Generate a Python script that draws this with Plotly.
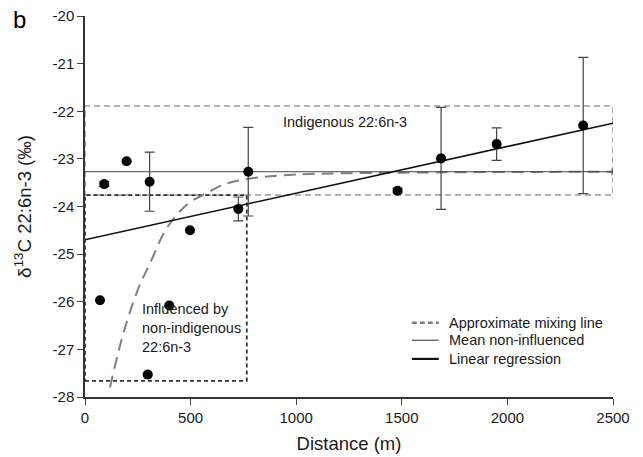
import plotly.graph_objects as go

# ---- data ----
distance = [71, 91, 197, 297, 306, 399, 497, 726, 773, 1480, 1686, 1949, 2359]
d13c = [-25.97, -23.53, -23.05, -27.53, -23.48, -26.08, -24.50, -24.05, -23.27, -23.67, -22.99, -22.69, -22.30]
err = [0, 0.05, 0, 0, 0.62, 0, 0, 0.25, 0.93, 0.05, 1.07, 0.34, 1.43]

mix_x = [118, 150, 189, 250, 308, 382, 450, 500, 576, 650, 773, 1000, 1500, 2500]
mix_y = [-27.8, -27.2, -26.55, -25.75, -25.19, -24.49, -24.1, -23.9, -23.72, -23.55, -23.42, -23.33, -23.29, -23.27]

mean_x = [0, 2500]
mean_y = [-23.27, -23.27]

reg_x = [0, 2500]
reg_y = [-24.70, -22.25]

indig_box_x = [0, 2500]
indig_box_y = [-23.76, -21.89]
infl_box_x = [0, 766]
infl_box_y = [-27.66, -23.76]

xticks = [0, 500, 1000, 1500, 2000, 2500]
yticks = [-28, -27, -26, -25, -24, -23, -22, -21, -20]
ytick_labels = ["-28", "-27", "-26", "-25", "-24", "-23", "-22", "-21", "-20"]

legend_names = ["Approximate mixing line", "Mean non-influenced", "Linear regression"]

FONT = "Liberation Sans, Arial, sans-serif"
TXT = "#1a1a1a"

fig = go.Figure()

def box(xs, ys, color, dash, width):
    fig.add_trace(go.Scatter(
        x=[xs[0], xs[1], xs[1], xs[0], xs[0]],
        y=[ys[0], ys[0], ys[1], ys[1], ys[0]],
        mode="lines", line=dict(color=color, dash=dash, width=width),
        showlegend=False, hoverinfo="skip"))

box(indig_box_x, indig_box_y, "#9a9a9a", "6px,4px", 1.6)
box(infl_box_x, infl_box_y, "#333333", "4px,3px", 1.8)

styles = [
    dict(color="#808080", width=2, dash="12px,7px"),
    dict(color="#444444", width=1),
    dict(color="#111111", width=1.6),
]

fig.add_trace(go.Scatter(x=mix_x, y=mix_y, mode="lines", line_shape="spline",
                         line=styles[0], name=legend_names[0], showlegend=False))
fig.add_trace(go.Scatter(x=mean_x, y=mean_y, mode="lines",
                         line=styles[1], name=legend_names[1], showlegend=False))
fig.add_trace(go.Scatter(x=[mean_x[-1]], y=[mean_y[-1]], mode="markers",
                         marker=dict(symbol="triangle-right", size=6, color="#555555"),
                         showlegend=False, hoverinfo="skip"))
fig.add_trace(go.Scatter(x=reg_x, y=reg_y, mode="lines",
                         line=styles[2], name=legend_names[2], showlegend=False))

fig.add_trace(go.Scatter(x=distance, y=d13c, mode="markers",
                         marker=dict(color="black", size=10),
                         error_y=dict(type="data", array=err, visible=True,
                                      color="#444444", thickness=1.2, width=5),
                         showlegend=False))

# manual legend (line samples + labels) in paper coordinates
leg_y = [0.195, 0.149, 0.100]
leg_styles = [
    dict(color="#808080", width=2.5, dash="5px,3px"),
    dict(color="#333333", width=1),
    dict(color="#111111", width=2.2),
]
for name, yy, st in zip(legend_names, leg_y, leg_styles):
    fig.add_shape(type="line", xref="paper", yref="paper", x0=0.619, x1=0.670,
                  y0=yy, y1=yy, line=st)
    fig.add_annotation(xref="paper", yref="paper", x=0.686, y=yy, text=name,
                       showarrow=False, xanchor="left", yanchor="middle",
                       font=dict(size=14.5, color=TXT, family=FONT))

fig.add_annotation(x=1233, y=-22.22, text="Indigenous 22:6n-3", showarrow=False,
                   font=dict(size=14.5, color=TXT, family=FONT))
fig.add_annotation(x=262, y=-26.55, text="Influenced by<br>non-indigenous<br>22:6n-3",
                   showarrow=False, xanchor="left", align="left",
                   font=dict(size=14.5, color=TXT, family=FONT))
fig.add_annotation(xref="paper", yref="paper", x=-0.125, y=0.99, text="b",
                   showarrow=False, xanchor="center", yanchor="middle",
                   font=dict(size=24, color="black", family=FONT))

fig.update_layout(
    width=643, height=457,
    margin=dict(l=85, r=30, t=16, b=60),
    plot_bgcolor="white", paper_bgcolor="white",
    font=dict(family=FONT, color=TXT),
    showlegend=False,
    xaxis=dict(range=[0, 2500], tickvals=xticks, ticks="outside", ticklen=6,
               showline=True, linecolor="#333333", linewidth=1.5, showgrid=False,
               zeroline=False, automargin=False, tickfont=dict(size=15, color=TXT),
               title=dict(text="Distance (m)", font=dict(size=18.5, color=TXT), standoff=12)),
    yaxis=dict(range=[-28, -20], tickvals=yticks, ticktext=ytick_labels,
               ticks="outside", ticklen=6,
               showline=True, linecolor="#333333", linewidth=1.5, showgrid=False,
               zeroline=False, automargin=False, tickfont=dict(size=15, color=TXT),
               title=dict(text="<span style='font-size:19px'>δ<sup>13</sup>C</span> "
                               "<span style='font-size:18.5px'>22:6n-3 (‰)</span>",
                          font=dict(size=18, color=TXT), standoff=16)),
)

fig.write_html("out.html", config={"displayModeBar": False},
               post_script="document.body.style.margin='0';")
